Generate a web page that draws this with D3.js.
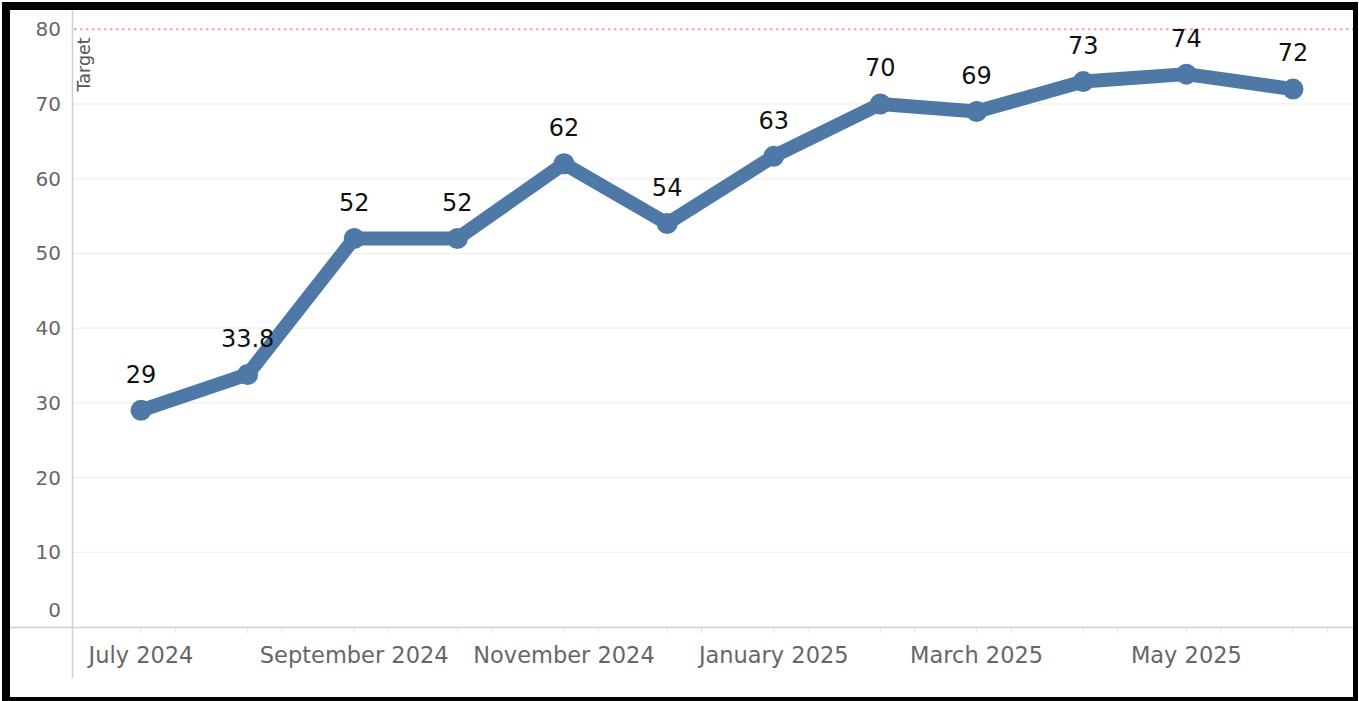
<!DOCTYPE html>
<html>
<head>
<meta charset="utf-8">
<script src="https://cdn.jsdelivr.net/npm/d3@7"></script>
<style>
  html, body { margin: 0; padding: 0; background: #fff; }
  svg { display: block; }
</style>
</head>
<body>
<svg id="chart"></svg>
<script>
// data
const months = ["2024-07", "2024-08", "2024-09", "2024-10", "2024-11", "2024-12",
    "2025-01", "2025-02", "2025-03", "2025-04", "2025-05", "2025-06"];
const values = [29, 33.8, 52, 52, 62, 54, 63, 70, 69, 73, 74, 72];
const value_labels = ["29", "33.8", "52", "52", "62", "54", "63", "70", "69", "73", "74", "72"];
const y_ticks = [0, 10, 20, 30, 40, 50, 60, 70, 80];
const labelled_months = ["2024-07", "2024-09", "2024-11", "2025-01", "2025-03", "2025-05"];
const target_value = 80;
const target_label = "Target";

const W = 1359, H = 701;
const parse = d3.timeParse("%Y-%m");
const dates = months.map(parse);

const svg = d3.select("#chart").attr("width", W).attr("height", H);

// black frame
svg.append("rect").attr("x", 2).attr("y", 2).attr("width", W - 3).attr("height", H - 2).attr("fill", "#000");
svg.append("rect").attr("x", 10).attr("y", 10).attr("width", 1343).attr("height", 687).attr("fill", "#fff");

const plot_left = 72, plot_right = 1353, axis_y = 627;
const font = "'DejaVu Sans', Verdana, sans-serif";

const x = d3.scaleTime()
    .domain([dates[0], dates[dates.length - 1]])
    .range([141, 1293]);
const y = d3.scaleLinear()
    .domain([0, 80])
    .range([axis_y, 29.3]);

// gridlines
svg.append("g")
    .selectAll("line")
    .data(y_ticks.filter(d => d > 0 && d < 80))
    .join("line")
    .attr("x1", plot_left).attr("x2", plot_right)
    .attr("y1", d => y(d)).attr("y2", d => y(d))
    .attr("stroke", "#ececec")
    .attr("stroke-width", 1);

// y tick labels (the 0 label is pushed up above the axis like tableau does)
svg.append("g")
    .selectAll("text")
    .data(y_ticks)
    .join("text")
    .attr("x", 61)
    .attr("y", d => d === 0 ? y(d) - 17 : y(d))
    .attr("dy", "0.35em")
    .attr("text-anchor", "end")
    .attr("fill", "#666")
    .attr("font-family", font)
    .attr("font-size", "20px")
    .text(d => d);

// axis lines
svg.append("line")
    .attr("x1", 10).attr("x2", plot_right)
    .attr("y1", axis_y + 0.5).attr("y2", axis_y + 0.5)
    .attr("stroke", "#d0d0d0").attr("stroke-width", 1.5);
svg.append("line")
    .attr("x1", plot_left + 0.5).attr("x2", plot_left + 0.5)
    .attr("y1", 10).attr("y2", 678)
    .attr("stroke", "#d0d0d0").attr("stroke-width", 1.5);

// faint x ticks
const tick_dates = dates.concat(dates.map(d => d3.timeDay.offset(d, 10)));
svg.append("g")
    .selectAll("line")
    .data(tick_dates)
    .join("line")
    .attr("x1", d => x(d)).attr("x2", d => x(d))
    .attr("y1", axis_y + 1).attr("y2", axis_y + 6)
    .attr("stroke", "#e6e6e6");

// x labels
svg.append("g")
    .selectAll("text")
    .data(labelled_months.map(parse))
    .join("text")
    .attr("x", d => x(d))
    .attr("y", 655)
    .attr("dy", "0.35em")
    .attr("text-anchor", "middle")
    .attr("fill", "#666")
    .attr("font-family", font)
    .attr("font-size", "22.5px")
    .text(d3.timeFormat("%B %Y"));

// target line
svg.append("line")
    .attr("x1", plot_left + 2).attr("x2", plot_right)
    .attr("y1", y(target_value)).attr("y2", y(target_value))
    .attr("stroke", "#f4a497")
    .attr("stroke-width", 2)
    .attr("stroke-dasharray", "2.5,3.5");
svg.append("text")
    .attr("transform", "translate(" + (plot_left + 18) + "," + (y(target_value) + 8) + ") rotate(-90)")
    .attr("text-anchor", "end")
    .attr("fill", "#555")
    .attr("font-family", font)
    .attr("font-size", "17.5px")
    .text(target_label);

// series line
const pts = dates.map((d, i) => ({ date: d, value: values[i], label: value_labels[i] }));
const line = d3.line().x(d => x(d.date)).y(d => y(d.value));
const blue = "#4e79a7";

svg.append("path")
    .datum(pts)
    .attr("d", line)
    .attr("fill", "none")
    .attr("stroke", blue)
    .attr("stroke-width", 14)
    .attr("stroke-linejoin", "round")
    .attr("stroke-linecap", "round");

svg.append("g")
    .selectAll("circle")
    .data(pts)
    .join("circle")
    .attr("cx", d => x(d.date))
    .attr("cy", d => y(d.value))
    .attr("r", 10.5)
    .attr("fill", blue);

svg.append("g")
    .selectAll("text")
    .data(pts)
    .join("text")
    .attr("x", d => x(d.date))
    .attr("y", d => y(d.value) - 36)
    .attr("dy", "0.35em")
    .attr("text-anchor", "middle")
    .attr("fill", "#111")
    .attr("font-family", font)
    .attr("font-size", "24px")
    .text(d => d.label);
</script>
</body>
</html>
